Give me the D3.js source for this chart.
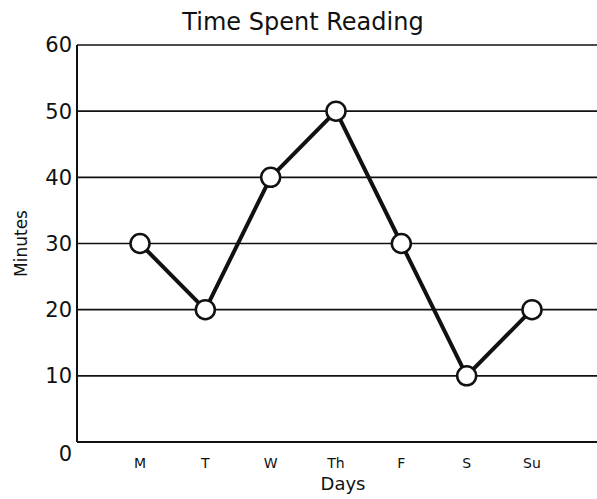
<!DOCTYPE html>
<html>
<head>
<meta charset="utf-8">
<script src="https://cdn.jsdelivr.net/npm/d3@7"></script>
<style>
  body { margin: 0; background: #fff; }
  text { font-family: "DejaVu Sans", sans-serif; fill: #111; }
</style>
</head>
<body>
<svg id="chart"></svg>
<script>
var days = ["M", "T", "W", "Th", "F", "S", "Su"]
var minutes = [30, 20, 40, 50, 30, 10, 20]
var yTicks = [0, 10, 20, 30, 40, 50, 60]

var dimensions = {
  width: 597,
  height: 499,
  margin: { top: 45, bottom: 57, right: 0, left: 77 }
}

var svg = d3.select("#chart")
  .attr("width", dimensions.width)
  .attr("height", dimensions.height)

var xScale = d3.scalePoint()
  .domain(days)
  .range([140, 532])

var yScale = d3.scaleLinear()
  .domain([0, 60])
  .range([dimensions.height - dimensions.margin.bottom, dimensions.margin.top])

// grid lines
svg.append("g")
  .selectAll("line")
  .data(yTicks.filter(d => d > 0))
  .enter().append("line")
  .attr("x1", dimensions.margin.left)
  .attr("x2", dimensions.width)
  .attr("y1", d => yScale(d))
  .attr("y2", d => yScale(d))
  .attr("stroke", "#111")
  .attr("stroke-width", 1.6)

// axes lines
svg.append("line")
  .attr("x1", dimensions.margin.left).attr("x2", dimensions.margin.left)
  .attr("y1", yScale(60)).attr("y2", yScale(0))
  .attr("stroke", "#111").attr("stroke-width", 2)
svg.append("line")
  .attr("x1", dimensions.margin.left).attr("x2", dimensions.width)
  .attr("y1", yScale(0)).attr("y2", yScale(0))
  .attr("stroke", "#111").attr("stroke-width", 2)

// y tick labels
svg.append("g")
  .selectAll("text")
  .data(yTicks)
  .enter().append("text")
  .attr("x", 72)
  .attr("y", d => d == 0 ? yScale(d) + 12 : yScale(d))
  .attr("dy", ".35em")
  .attr("text-anchor", "end")
  .style("font-size", "21px")
  .text(d => d)

// x tick labels
svg.append("g")
  .selectAll("text")
  .data(days)
  .enter().append("text")
  .attr("x", d => xScale(d))
  .attr("y", 468)
  .attr("text-anchor", "middle")
  .style("font-size", "14px")
  .text(d => d)

// line
var line = d3.line()
  .x((d, i) => xScale(days[i]))
  .y(d => yScale(d))

svg.append("path")
  .datum(minutes)
  .attr("d", line)
  .attr("fill", "none")
  .attr("stroke", "#111")
  .attr("stroke-width", 4)
  .attr("stroke-linejoin", "round")

svg.append("g")
  .selectAll("circle")
  .data(minutes)
  .enter().append("circle")
  .attr("cx", (d, i) => xScale(days[i]))
  .attr("cy", d => yScale(d))
  .attr("r", 9.5)
  .attr("fill", "#fff")
  .attr("stroke", "#111")
  .attr("stroke-width", 2.5)

// title
svg.append("text")
  .attr("x", 303)
  .attr("y", 30)
  .attr("text-anchor", "middle")
  .style("font-size", "24px")
  .text("Time Spent Reading")

// x label
svg.append("text")
  .attr("x", 343)
  .attr("y", 490)
  .attr("text-anchor", "middle")
  .style("font-size", "18px")
  .text("Days")

// y label
svg.append("text")
  .attr("transform", "translate(27," + yScale(30) + ") rotate(-90)")
  .attr("text-anchor", "middle")
  .style("font-size", "17px")
  .text("Minutes")
</script>
</body>
</html>
